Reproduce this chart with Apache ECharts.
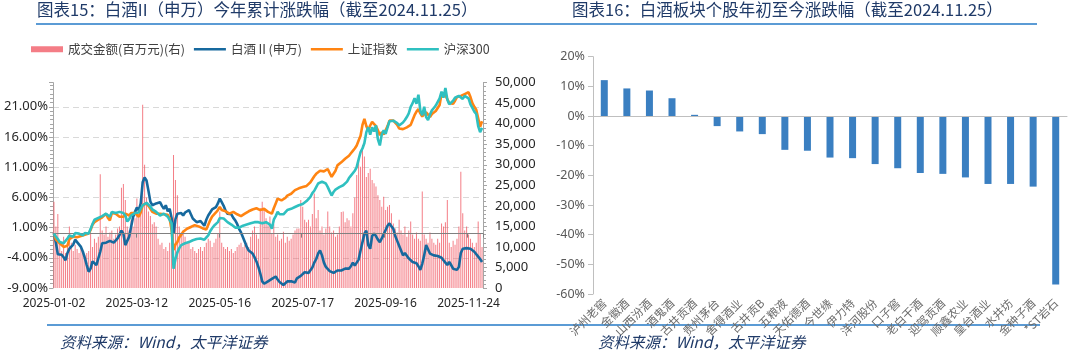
<!DOCTYPE html>
<html><head><meta charset="utf-8">
<script src="https://cdn.jsdelivr.net/npm/echarts@6/dist/echarts.min.js"></script>
<style>html,body{margin:0;padding:0;background:#fff}#c{width:1080px;height:355px}</style>
</head><body><div id="c"></div>
<script>
const dates = [
'2025-01-02','2025-01-03','2025-01-06','2025-01-07','2025-01-08','2025-01-09','2025-01-10','2025-01-13','2025-01-14','2025-01-15','2025-01-16','2025-01-17','2025-01-20','2025-01-21','2025-01-22','2025-01-23','2025-01-24','2025-01-27',
'2025-02-05','2025-02-06','2025-02-07','2025-02-10','2025-02-11','2025-02-12','2025-02-13','2025-02-14','2025-02-17','2025-02-18','2025-02-19','2025-02-20','2025-02-21','2025-02-24','2025-02-25','2025-02-26','2025-02-27','2025-02-28',
'2025-03-03','2025-03-04','2025-03-05','2025-03-06','2025-03-07','2025-03-10','2025-03-11','2025-03-12','2025-03-13','2025-03-14','2025-03-17','2025-03-18','2025-03-19','2025-03-20','2025-03-21','2025-03-24','2025-03-25','2025-03-26','2025-03-27','2025-03-28','2025-03-31',
'2025-04-01','2025-04-02','2025-04-03','2025-04-07','2025-04-08','2025-04-09','2025-04-10','2025-04-11','2025-04-14','2025-04-15','2025-04-16','2025-04-17','2025-04-18','2025-04-21','2025-04-22','2025-04-23','2025-04-24','2025-04-25','2025-04-28','2025-04-29','2025-04-30',
'2025-05-06','2025-05-07','2025-05-08','2025-05-09','2025-05-12','2025-05-13','2025-05-14','2025-05-15','2025-05-16','2025-05-19','2025-05-20','2025-05-21','2025-05-22','2025-05-23','2025-05-26','2025-05-27','2025-05-28','2025-05-29','2025-05-30',
'2025-06-03','2025-06-04','2025-06-05','2025-06-06','2025-06-09','2025-06-10','2025-06-11','2025-06-12','2025-06-13','2025-06-16','2025-06-17','2025-06-18','2025-06-19','2025-06-20','2025-06-23','2025-06-24','2025-06-25','2025-06-26','2025-06-27','2025-06-30',
'2025-07-01','2025-07-02','2025-07-03','2025-07-04','2025-07-07','2025-07-08','2025-07-09','2025-07-10','2025-07-11','2025-07-14','2025-07-15','2025-07-16','2025-07-17','2025-07-18','2025-07-21','2025-07-22','2025-07-23','2025-07-24','2025-07-25','2025-07-28','2025-07-29','2025-07-30','2025-07-31',
'2025-08-01','2025-08-04','2025-08-05','2025-08-06','2025-08-07','2025-08-08','2025-08-11','2025-08-12','2025-08-13','2025-08-14','2025-08-15','2025-08-18','2025-08-19','2025-08-20','2025-08-21','2025-08-22','2025-08-25','2025-08-26','2025-08-27','2025-08-28','2025-08-29',
'2025-09-01','2025-09-02','2025-09-03','2025-09-04','2025-09-05','2025-09-08','2025-09-09','2025-09-10','2025-09-11','2025-09-12','2025-09-15','2025-09-16','2025-09-17','2025-09-18','2025-09-19','2025-09-22','2025-09-23','2025-09-24','2025-09-25','2025-09-26','2025-09-29','2025-09-30',
'2025-10-09','2025-10-10','2025-10-13','2025-10-14','2025-10-15','2025-10-16','2025-10-17','2025-10-20','2025-10-21','2025-10-22','2025-10-23','2025-10-24','2025-10-27','2025-10-28','2025-10-29','2025-10-30','2025-10-31',
'2025-11-03','2025-11-04','2025-11-05','2025-11-06','2025-11-07','2025-11-10','2025-11-11','2025-11-12','2025-11-13','2025-11-14','2025-11-17','2025-11-18','2025-11-19','2025-11-20','2025-11-21','2025-11-24','2025-11-25','2025-11-26','2025-11-27','2025-11-28',
'2025-12-01','2025-12-02','2025-12-03'
];

// 成交金额 (百万元), right axis
const volume = [
21000,15000,18000,11000,9000,12500,8500,10000,15000,11000,
9000,10500,9500,8500,10000,9000,8000,8500,9000,13500,
10000,12000,11000,12500,27700,14000,13000,15000,12500,13500,
14000,12000,13000,14500,15000,24400,25300,21400,15000,14000,
16500,15000,17000,21800,18000,19000,44600,30000,22000,18600,
17500,15500,16000,15000,12000,10500,11000,9500,10000,9000,
11000,12000,32400,26300,22600,15000,13500,14000,12500,11000,
11500,9500,10000,9000,8500,9500,10000,9000,10000,11000,
12000,11500,10000,11000,12000,13300,18600,11000,10000,9500,
10000,9000,9500,8500,9000,10000,10500,11000,10000,10500,
11000,10000,12500,14000,15000,13000,12000,19400,21000,19400,
17000,15300,17400,13300,15500,12500,13000,11500,12000,13700,
11000,12500,11500,12000,13000,14000,14500,14500,21400,19800,
16600,16000,16600,15000,18000,23000,17000,19000,14000,15000,
13000,14500,18600,15000,13500,14000,12500,13000,15000,18500,
18600,16000,17000,16500,15000,18200,22000,27500,32000,29500,
34800,32000,27000,28000,29000,26300,25500,24700,22600,21400,
19800,22200,19000,19800,20200,18200,15700,14500,13500,16600,
14000,13000,15000,12500,14000,16200,13000,12000,13500,12000,
11500,23500,13000,12000,11000,13500,12000,11000,10500,12000,
11000,15700,15000,16000,21400,11000,10000,11500,10500,12000,
15000,28300,18200,14000,15000,13000,12000,11000,10000,11000,
16200,13300,10000
];

// 白酒Ⅱ(申万) cumulative change, %
const baijiu = [
0.0,-1.5,-3.4,-3.6,-3.5,-3.9,-4.4,-3.2,-2.5,-2.3,
-1.8,-1.0,-1.4,-1.5,-2.2,-3.0,-4.0,-5.2,-6.3,-5.8,
-4.6,-4.7,-5.2,-5.5,-3.0,-1.6,-1.4,-1.5,-1.6,-1.2,
-1.1,-1.5,-1.2,-0.8,-0.2,0.5,0.0,-1.9,-1.2,-0.5,
1.1,2.7,3.6,4.3,3.9,5.0,8.5,9.3,8.8,7.1,
5.3,4.7,4.8,5.0,5.1,5.2,4.6,4.1,4.7,3.7,
4.1,2.6,0.0,2.4,3.3,3.5,3.4,3.0,3.5,3.7,
3.9,3.2,2.5,2.2,1.9,2.2,2.1,1.9,1.3,2.3,
3.0,3.3,4.0,4.3,4.4,5.0,5.8,5.2,4.6,3.8,
3.3,3.1,3.2,2.6,2.2,1.6,0.8,0.2,-0.6,-1.4,
-2.2,-2.8,-3.1,-3.3,-3.9,-4.6,-5.5,-6.6,-7.9,-8.3,
-8.1,-7.9,-7.7,-7.5,-7.3,-7.1,-7.6,-8.0,-8.2,-8.5,
-8.3,-7.9,-7.7,-7.9,-8.2,-8.1,-7.4,-7.2,-7.0,-6.8,
-6.4,-6.3,-6.5,-6.3,-5.6,-4.8,-4.2,-3.3,-2.8,-3.6,
-4.8,-5.5,-5.2,-6.2,-6.4,-6.5,-6.6,-6.1,-6.0,-6.1,
-6.3,-5.8,-5.5,-5.8,-5.4,-4.8,-5.3,-5.4,-4.3,-2.8,
-2.5,0.0,0.5,-1.9,-2.5,-0.4,0.0,-0.4,-1.0,-1.4,
-0.8,-0.1,0.6,1.3,1.7,1.2,0.8,-0.4,-1.2,-2.0,
-2.8,-3.6,-3.2,-3.4,-4.1,-4.3,-4.7,-4.8,-4.9,-5.4,
-6.0,-5.0,-3.6,-1.9,-2.2,-3.3,-3.5,-3.6,-3.6,-3.7,
-3.8,-4.0,-4.4,-4.8,-5.2,-4.7,-5.2,-5.8,-5.9,-6.0,
-5.5,-3.2,-2.5,-2.6,-2.4,-2.2,-2.5,-2.7,-3.0,-3.3,
-3.8,-4.2,-4.7
];

// 上证指数 cumulative change, %
const szzs = [
0.0,-1.0,-1.3,-1.6,-1.8,-2.2,-2.5,-2.0,-0.9,-0.7,
-0.5,-0.4,-0.6,-0.3,-0.4,-0.5,-0.2,-0.3,0.0,0.6,
1.5,1.9,2.2,2.3,2.5,2.7,2.9,3.3,2.6,2.2,
3.4,3.6,3.3,3.0,2.8,2.9,2.8,3.3,3.1,3.0,
3.4,3.6,3.4,3.3,2.8,3.5,4.7,4.9,5.0,4.6,
4.3,3.6,3.5,3.3,3.4,3.3,3.0,3.2,3.3,3.1,
2.5,0.6,-2.7,-1.8,-1.4,-0.6,-0.2,0.3,0.6,0.8,
1.0,1.1,1.1,1.4,1.3,1.2,1.1,0.9,0.8,0.7,
0.6,2.2,2.8,3.0,3.5,3.9,4.4,3.9,3.6,3.7,
3.5,3.3,3.5,3.6,3.4,3.2,3.0,2.9,2.8,3.3,
3.5,3.7,3.9,4.0,4.1,4.2,4.1,3.9,4.0,4.1,
3.9,3.6,3.4,3.3,4.2,5.0,5.8,5.6,5.5,5.7,
5.9,6.3,6.4,6.6,6.9,7.2,7.3,7.5,7.7,7.7,
7.7,7.9,8.0,8.5,9.0,9.5,9.9,10.2,10.4,10.5,
10.3,10.4,10.7,10.0,9.4,9.9,10.4,11.3,11.5,11.8,
11.9,12.4,12.6,12.9,13.3,13.7,14.1,14.6,15.4,16.2,
18.0,19.0,17.8,17.1,17.9,18.5,18.5,17.8,17.1,16.3,
16.8,16.4,16.6,17.8,18.7,18.8,18.7,18.5,18.0,17.4,
17.3,17.3,17.5,17.6,17.4,18.0,18.8,19.6,20.2,20.6,
19.9,19.4,19.6,20.1,19.7,19.3,19.8,20.1,20.3,20.6,
21.3,23.2,23.1,22.9,22.6,21.6,21.4,21.5,22.0,22.6,
22.8,22.8,22.9,23.1,23.2,23.4,22.6,21.6,21.0,20.5,
19.1,17.7,18.6
];

// 沪深300 cumulative change, %
const hs300 = [
0.0,-0.5,-0.9,-1.4,-1.5,-1.6,-1.2,-0.8,-0.3,-0.4,
-0.5,0.1,0.3,0.0,-0.1,-0.3,0.1,0.3,0.0,-0.2,
1.6,2.3,2.5,2.6,2.8,2.9,3.1,3.3,3.0,2.8,
3.6,3.9,3.4,3.4,3.6,3.9,3.4,3.0,2.0,2.4,
3.0,3.3,3.4,3.3,3.5,3.8,4.7,4.9,5.1,4.8,
4.5,4.0,3.8,3.6,3.3,3.0,3.2,3.3,3.0,2.8,
2.8,1.7,-5.8,-4.2,-3.1,-2.4,-1.9,-1.7,-1.6,-1.5,
-1.4,-1.3,-1.1,-0.9,-0.9,-0.9,-0.8,-0.9,-1.0,-1.1,
-0.3,0.4,0.9,1.3,1.6,1.9,2.6,2.8,2.5,2.2,
1.9,1.7,1.5,1.4,1.0,0.8,1.0,1.2,1.3,1.4,
1.5,1.7,1.7,1.8,1.9,1.9,1.9,1.8,1.7,1.9,
1.9,1.7,1.5,0.8,2.3,2.9,3.6,3.2,3.0,3.2,
3.5,3.9,4.0,4.1,4.3,4.4,4.6,4.7,4.7,4.9,
5.2,5.4,5.6,6.1,6.7,7.1,7.7,8.3,8.4,8.6,
8.7,8.3,7.7,7.0,6.3,6.9,7.3,7.6,7.7,7.7,
8.0,8.3,8.6,9.2,9.6,9.9,10.4,11.0,12.3,13.5,
14.1,15.0,16.8,17.6,16.4,17.6,16.9,17.9,15.6,14.6,
16.4,17.1,16.5,17.6,18.6,18.7,18.7,18.6,18.3,17.9,
18.1,18.4,18.8,19.3,19.9,21.0,21.6,22.4,21.5,23.0,
20.4,19.6,21.0,19.3,18.8,19.7,20.4,20.8,21.2,21.0,
22.4,23.5,22.5,24.1,22.2,21.4,21.7,22.0,22.5,22.8,
22.8,22.7,22.3,22.8,22.6,22.4,21.4,20.8,20.2,19.8,
17.8,16.8,17.5
];

const stockNames = ['泸州老窖','金徽酒','山西汾酒','酒鬼酒','古井贡酒','贵州茅台','舍得酒业','古井贡B','五粮液','天佑德酒','今世缘','伊力特','洋河股份','口子窖','老白干酒','迎驾贡酒','顺鑫农业','皇台酒业','水井坊','金种子酒','*ST岩石'];
const stockChange = [12.1,9.3,8.6,6.0,0.4,-3.4,-5.2,-6.1,-11.4,-11.7,-14.0,-14.2,-16.2,-17.6,-19.2,-19.5,-20.7,-22.9,-22.9,-23.8,-56.8];

const LAT = "'Noto Sans','Noto Sans CJK SC',sans-serif";
const CJK = "'Noto Sans CJK SC','Noto Sans',sans-serif";
const TITLE_C = '#1F3A68';
const AX = '#A6A6A6';
const LINE_ICON = 'path://M0,0L32,0L32,2.6L0,2.6Z';

const chart = echarts.init(document.getElementById('c'), null, {renderer: 'canvas'});
chart.setOption({
  animation: false,
  backgroundColor: '#ffffff',
  textStyle: {fontFamily: LAT},
  title: [
    {text: '图表15：白酒II（申万）今年累计涨跌幅（截至2024.11.25）', left: 37, top: 1, padding: 0,
     textStyle: {fontSize: 16.5, fontWeight: 'normal', color: TITLE_C, fontFamily: CJK}},
    {text: '图表16：白酒板块个股年初至今涨跌幅（截至2024.11.25）', left: 572, top: 1, padding: 0,
     textStyle: {fontSize: 16.5, fontWeight: 'normal', color: TITLE_C, fontFamily: CJK}},
    {text: '资料来源：Wind，太平洋证券', left: 60, top: 334, padding: 0,
     textStyle: {fontSize: 15.5, fontWeight: 'normal', fontStyle: 'italic', color: TITLE_C, fontFamily: CJK}},
    {text: '资料来源：Wind，太平洋证券', left: 598, top: 334, padding: 0,
     textStyle: {fontSize: 15.5, fontWeight: 'normal', fontStyle: 'italic', color: TITLE_C, fontFamily: CJK}}
  ],
  graphic: [
    {type: 'line', shape: {x1: 36, y1: 24, x2: 1037, y2: 24}, style: {stroke: '#5B9BD5', lineWidth: 2}},
    {type: 'line', shape: {x1: 47, y1: 325, x2: 1040, y2: 325}, style: {stroke: '#5B9BD5', lineWidth: 2}}
  ],
  legend: {
    left: 31, top: 43, padding: 0, itemGap: 9, itemWidth: 32, itemHeight: 6, symbolKeepAspect: true,
    textStyle: {fontSize: 12.5, color: '#404040', fontFamily: CJK},
    data: [
      {name: '成交金额(百万元)(右)', icon: 'rect'},
      {name: '白酒Ⅱ(申万)', icon: LINE_ICON},
      {name: '上证指数', icon: LINE_ICON},
      {name: '沪深300', icon: LINE_ICON}
    ]
  },
  grid: [
    {left: 53, top: 82.6, width: 430, height: 205.4},
    {left: 593, top: 56.7, width: 474, height: 237.3}
  ],
  xAxis: [
    {type: 'category', gridIndex: 0, data: dates, boundaryGap: true, z: 5,
     axisLine: {onZero: true, onZeroAxisIndex: 0, lineStyle: {color: '#808080', width: 1}},
     axisTick: {show: true, interval: 42, length: 4, lineStyle: {color: '#808080'}},
     axisLabel: {show: false}, splitLine: {show: false}},
    {type: 'category', gridIndex: 0, data: dates, boundaryGap: true, position: 'bottom',
     axisLine: {show: false, onZero: false}, axisTick: {show: false},
     axisLabel: {interval: 42, fontSize: 12, color: '#262626', margin: 10}, splitLine: {show: false}},
    {type: 'category', gridIndex: 1, data: stockNames, z: 3,
     axisLine: {onZero: true, onZeroAxisIndex: 2, lineStyle: {color: '#BFBFBF'}},
     axisTick: {show: false},
     axisLabel: {rotate: 45, interval: 0, fontSize: 11.5, color: '#6B6B6B', margin: 7, fontFamily: CJK}}
  ],
  yAxis: [
    {type: 'value', gridIndex: 0, position: 'left', min: -9, max: 25, interval: 5,
     axisLine: {show: true, lineStyle: {color: AX}},
     axisTick: {show: true, length: 4, lineStyle: {color: AX}},
     minorTick: {show: true, splitNumber: 7, length: 3, lineStyle: {color: AX}},
     axisLabel: {formatter: v => v.toFixed(2) + '%', fontSize: 13, color: '#262626', margin: 5, showMaxLabel: false},
     splitLine: {show: true, showMinLine: false, showMaxLine: false, lineStyle: {color: '#D9D9D9', type: [6, 4], width: 1}}},
    {type: 'value', gridIndex: 0, position: 'right', min: 0, max: 50000, interval: 5000,
     axisLine: {show: true, lineStyle: {color: AX}},
     axisTick: {show: true, length: 4, lineStyle: {color: AX}},
     minorTick: {show: true, splitNumber: 5, length: 3, lineStyle: {color: AX}},
     axisLabel: {formatter: v => v.toLocaleString('en-US'), fontSize: 13, color: '#262626', margin: 12},
     splitLine: {show: false}},
    {type: 'value', gridIndex: 1, min: -60, max: 20, interval: 10,
     axisLine: {show: true, lineStyle: {color: '#BFBFBF'}},
     axisTick: {show: true, length: 5, lineStyle: {color: '#BFBFBF'}},
     axisLabel: {formatter: v => v + '%', fontSize: 12.5, color: '#595959', margin: 8},
     splitLine: {show: false}}
  ],
  series: [
    {name: '成交金额(百万元)(右)', type: 'bar', xAxisIndex: 0, yAxisIndex: 1, data: volume,
     barWidth: 0.9, itemStyle: {color: '#F0525E', opacity: 0.75}, z: 1},
    {name: '白酒Ⅱ(申万)', type: 'line', xAxisIndex: 0, yAxisIndex: 0, data: baijiu, symbol: 'none',
     lineStyle: {width: 2.6, color: '#17699E'}, itemStyle: {color: '#17699E'}, z: 3},
    {name: '上证指数', type: 'line', xAxisIndex: 0, yAxisIndex: 0, data: szzs, symbol: 'none',
     lineStyle: {width: 2.6, color: '#FF8412'}, itemStyle: {color: '#FF8412'}, z: 4},
    {name: '沪深300', type: 'line', xAxisIndex: 0, yAxisIndex: 0, data: hs300, symbol: 'none',
     lineStyle: {width: 2.6, color: '#2FC0C0'}, itemStyle: {color: '#2FC0C0'}, z: 5},
    {name: '个股涨跌幅', type: 'bar', xAxisIndex: 2, yAxisIndex: 2, data: stockChange,
     barWidth: 7, itemStyle: {color: '#3A7FC1'}}
  ]
});
</script>
</body></html>
